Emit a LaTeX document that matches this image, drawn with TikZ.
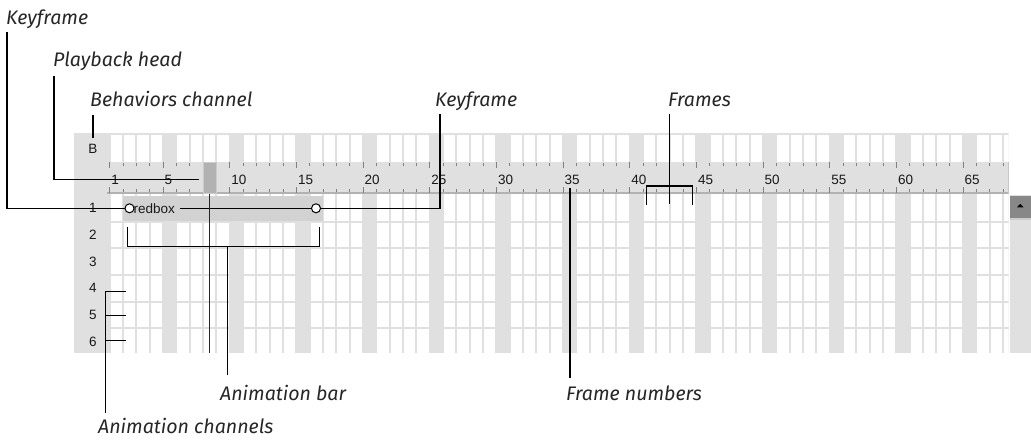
\documentclass[tikz,border=0pt]{standalone}
\usepackage{fontspec}
\setmainfont{Fira Sans}
\newfontfamily\uifont{Liberation Sans}
\newfontfamily\calloutfont{Fira Sans}
\definecolor{panelgray}{HTML}{E0E0E0}
\definecolor{bargray}{HTML}{D2D2D2}
\definecolor{headgray}{HTML}{B2B2B2}
\definecolor{tickgray}{HTML}{808080}
\begin{document}
\begin{tikzpicture}[x=1pt,y=-1pt,
  callout/.style={font=\calloutfont\itshape\fontsize{19.6}{22}\selectfont, anchor=base west, inner sep=0pt, text=black!85},
  uitext/.style={font=\uifont\fontsize{13.5}{15}\selectfont, inner sep=0pt, text=black!90},
  lead/.style={draw=black, line width=1.1pt},
  tick/.style={draw=tickgray, line width=0.9pt},
  keyframe/.style={circle, draw=black, fill=white, line width=1pt, minimum size=9pt, inner sep=0pt}]
\useasboundingbox (0,0) rectangle (1031,440);
% ---------- panel grid ----------
\begin{scope}
\clip (74,133) rectangle (1008.5,352.5);
\fill[panelgray] (74,133) rectangle (1009,352.5);
\foreach \n in {1,...,68}{
  \pgfmathtruncatemacro\r{mod(\n,5)}
  \ifnum\r>0
    \fill[white] ({96.333+\n*13.333+1},135) rectangle ({96.333+(\n+1)*13.333-1},352.5);
  \fi
}
\foreach \yy in {221.7,248.3,275,301.7,328.3}{
  \draw[panelgray, line width=2pt] (109.7,\yy) -- (1009,\yy);
}
\end{scope}
% ---------- ruler ----------
\fill[panelgray] (106.7,162) rectangle (1009,193.5);
\draw[draw=gray!60, line width=1.2pt] (106.7,193) -- (1009,193);
\draw[draw=gray!45, line width=1pt] (1008.8,162) -- (1008.8,193.5);
\foreach \n in {1,...,68}{
  \pgfmathtruncatemacro\r{mod(\n,5)}
  \pgfmathsetmacro\xx{96.333+\n*13.333}
  \ifnum\r=0
    \draw[tick] (\xx,162) -- (\xx,168);
    \draw[tick] (\xx,187) -- (\xx,193);
  \else
    \ifnum\n=1
      \draw[tick] (\xx,162) -- (\xx,168);
      \draw[tick] (\xx,187) -- (\xx,193);
    \else
      \draw[tick] (\xx,163) -- (\xx,166);
      \draw[tick] (\xx,189) -- (\xx,192);
    \fi
  \fi
}
\foreach \n in {1,5,10,15,20,25,30,35,40,45,50,55,60,65}{
  \node[uitext, anchor=base west] (rn\n) at ({96.333+\n*13.333+1.5},184.3) {\n};
}
% ---------- row labels ----------
\node[uitext] (rowB) at (93,148.5) {B};
\foreach \k/\yy in {1/208.3,2/235,3/261.7,4/288.3,5/315,6/341.7}{
  \node[uitext] (row\k) at (93,\yy) {\k};
}
% ---------- scrollbar ----------
\fill[panelgray] (1010,195) rectangle (1031,352.5);
\fill[gray!93] (1010,196) rectangle (1031,218);
\draw[gray!40, line width=1.5pt] (1010,219) -- (1031,219);
\fill[black] (1017,207.3) -- (1023.5,207.3) -- (1020.25,203.8) -- cycle;
% ---------- sprite bar ----------
\fill[bargray] (123.3,195.5) rectangle (323,221);
\node[keyframe] (kA) at (129.5,208.3) {};
\node[keyframe] (kB) at (316,208.3) {};
\node[uitext, anchor=west] (sprite) at (133.5,208.3) {redbox};
\draw[black, line width=1pt] ([xshift=5pt]sprite.east) -- (kB.west);
% ---------- playback head ----------
\node[draw=gray!40, fill=headgray, line width=1pt, minimum width=13.5pt, minimum height=31pt, inner sep=0pt] (head) at (209.75,177.5) {};
\coordinate (headbottom) at (209.75,352.5);
\draw[black!85, line width=1pt] (head.south) -- (headbottom);
% ---------- callouts ----------
\node[callout] (kf1) at (6,24) {Keyframe};
\coordinate (kf1top) at (7,32);
\coordinate (kf1bend) at (7,208.3);
\draw[lead] (kf1top) -- (kf1bend) -- (kA.west);

\node[callout] (ph) at (53,66) {Playback head};
\coordinate (phtop) at (54,76);
\coordinate (phbend) at (54,179.3);
\coordinate (phend) at (198.5,179.3);
\draw[lead] (phtop) -- (phbend) -- (phend);

\node[callout] (bc) at (90,106.5) {Behaviors channel};
\coordinate (bctop) at (93,115);
\coordinate (bcend) at (93,138);
\draw[lead] (bctop) -- (bcend);

\node[callout] (kf2) at (435,106.5) {Keyframe};
\coordinate (kf2top) at (440,114);
\coordinate (kf2bend) at (440,208.3);
\draw[lead] (kf2top) -- (kf2bend) -- (kB.east);

\node[callout] (fr) at (668,106.5) {Frames};
\coordinate (frtop) at (669.3,114);
\coordinate (frend) at (669.3,204);
\coordinate (frl) at (646.5,205);
\coordinate (frlt) at (646.5,186);
\coordinate (frrt) at (692.7,186);
\coordinate (frr) at (692.7,205);
\draw[lead] (frtop) -- (frend);
\draw[lead] (frl) -- (frlt) -- (frrt) -- (frr);

\node[callout] (ab) at (220,400) {Animation bar};
\coordinate (abl) at (127.3,227.3);
\coordinate (ablb) at (127.3,246.7);
\coordinate (abrb) at (319.3,246.7);
\coordinate (abr) at (319.3,227.3);
\coordinate (abstem) at (227.3,246.7);
\coordinate (abend) at (227.3,375);
\draw[lead] (abl) -- (ablb) -- (abrb) -- (abr);
\draw[lead] (abstem) -- (abend);

\node[callout] (fn) at (566,400) {Frame numbers};
\coordinate (fntop) at (570,188);
\coordinate (fnend) at (570,378);
\draw[lead] (fntop) -- (fnend);

\node[callout] (ac) at (98,433.5) {Animation channels};
\coordinate (actop) at (105.5,291.7);
\coordinate (acend) at (105.5,413);
\coordinate (ac4) at (126,291.7);
\coordinate (ac5l) at (105.5,315.5);
\coordinate (ac5) at (126,315.5);
\coordinate (ac6l) at (105.5,340.3);
\coordinate (ac6) at (126,340.3);
\draw[lead] (ac4) -- (actop) -- (acend);
\draw[lead] (ac5l) -- (ac5);
\draw[lead] (ac6l) -- (ac6);
\end{tikzpicture}
\end{document}
